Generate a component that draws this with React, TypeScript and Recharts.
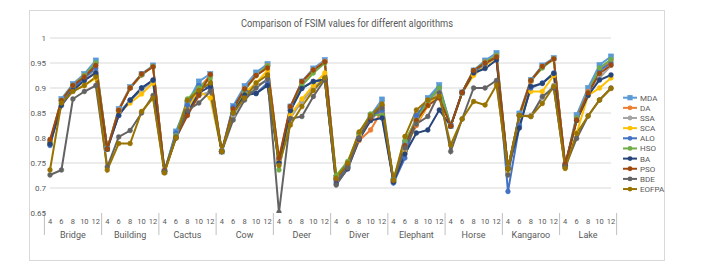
import React from 'react';
import { LineChart, Line, XAxis, YAxis, CartesianGrid } from 'recharts';

const images = ['Bridge', 'Building', 'Cactus', 'Cow', 'Deer', 'Diver', 'Elephant', 'Horse', 'Kangaroo', 'Lake'];
const thresholds = [4, 6, 8, 10, 12];
const yTicks = [0.65, 0.7, 0.75, 0.8, 0.85, 0.9, 0.95, 1];

const mda = [0.79, 0.878, 0.908, 0.928, 0.955, 0.778, 0.858, 0.902, 0.928, 0.945, 0.733, 0.813, 0.87, 0.913, 0.928, 0.773, 0.864, 0.904, 0.931, 0.948, 0.755, 0.863, 0.913, 0.939, 0.956, 0.72, 0.745, 0.805, 0.845, 0.877, 0.715, 0.79, 0.84, 0.88, 0.906, 0.824, 0.891, 0.935, 0.955, 0.97, 0.739, 0.849, 0.916, 0.945, 0.96, 0.745, 0.846, 0.9, 0.946, 0.963];
const da = [0.792, 0.875, 0.905, 0.925, 0.948, 0.778, 0.856, 0.9, 0.926, 0.943, 0.733, 0.805, 0.86, 0.9, 0.925, 0.773, 0.858, 0.898, 0.925, 0.945, 0.755, 0.86, 0.91, 0.936, 0.953, 0.718, 0.74, 0.795, 0.816, 0.855, 0.712, 0.78, 0.825, 0.865, 0.89, 0.824, 0.891, 0.933, 0.952, 0.965, 0.739, 0.845, 0.913, 0.943, 0.958, 0.745, 0.84, 0.893, 0.935, 0.955];
const ssa = [0.79, 0.872, 0.9, 0.915, 0.935, 0.778, 0.852, 0.875, 0.895, 0.915, 0.733, 0.803, 0.85, 0.885, 0.893, 0.773, 0.845, 0.885, 0.905, 0.915, 0.75, 0.84, 0.873, 0.9, 0.92, 0.715, 0.745, 0.8, 0.835, 0.86, 0.712, 0.775, 0.83, 0.87, 0.895, 0.824, 0.89, 0.928, 0.948, 0.962, 0.73, 0.845, 0.845, 0.88, 0.905, 0.742, 0.835, 0.885, 0.92, 0.945];
const sca = [0.79, 0.87, 0.895, 0.905, 0.92, 0.778, 0.85, 0.87, 0.888, 0.91, 0.733, 0.805, 0.86, 0.893, 0.88, 0.773, 0.855, 0.89, 0.91, 0.935, 0.752, 0.845, 0.878, 0.905, 0.93, 0.722, 0.75, 0.805, 0.84, 0.865, 0.714, 0.77, 0.83, 0.865, 0.885, 0.824, 0.89, 0.925, 0.945, 0.96, 0.735, 0.845, 0.893, 0.893, 0.925, 0.742, 0.81, 0.885, 0.9, 0.92];
const alo = [0.785, 0.868, 0.9, 0.92, 0.94, 0.778, 0.845, 0.875, 0.9, 0.915, 0.733, 0.81, 0.865, 0.905, 0.9, 0.773, 0.862, 0.895, 0.889, 0.91, 0.75, 0.855, 0.9, 0.913, 0.917, 0.712, 0.742, 0.8, 0.84, 0.855, 0.71, 0.76, 0.845, 0.875, 0.9, 0.824, 0.891, 0.933, 0.948, 0.962, 0.693, 0.825, 0.9, 0.91, 0.93, 0.745, 0.84, 0.89, 0.935, 0.95];
const hso = [0.79, 0.875, 0.905, 0.925, 0.95, 0.778, 0.855, 0.9, 0.926, 0.943, 0.733, 0.805, 0.878, 0.9, 0.92, 0.773, 0.855, 0.895, 0.925, 0.944, 0.736, 0.855, 0.905, 0.93, 0.95, 0.725, 0.753, 0.81, 0.848, 0.845, 0.716, 0.795, 0.835, 0.875, 0.9, 0.824, 0.891, 0.935, 0.952, 0.965, 0.739, 0.845, 0.915, 0.94, 0.958, 0.745, 0.84, 0.89, 0.94, 0.957];
const ba = [0.788, 0.865, 0.895, 0.915, 0.93, 0.778, 0.845, 0.876, 0.9, 0.916, 0.733, 0.8, 0.85, 0.89, 0.903, 0.773, 0.85, 0.886, 0.889, 0.905, 0.75, 0.855, 0.899, 0.913, 0.917, 0.708, 0.738, 0.797, 0.835, 0.84, 0.712, 0.768, 0.81, 0.816, 0.856, 0.824, 0.891, 0.93, 0.939, 0.956, 0.738, 0.82, 0.903, 0.909, 0.929, 0.745, 0.835, 0.885, 0.916, 0.926];
const pso = [0.797, 0.875, 0.905, 0.922, 0.945, 0.778, 0.855, 0.9, 0.928, 0.942, 0.735, 0.8, 0.845, 0.885, 0.927, 0.773, 0.858, 0.898, 0.925, 0.94, 0.76, 0.863, 0.913, 0.936, 0.952, 0.718, 0.748, 0.8, 0.84, 0.865, 0.715, 0.785, 0.835, 0.865, 0.88, 0.824, 0.891, 0.935, 0.95, 0.962, 0.739, 0.845, 0.915, 0.943, 0.958, 0.748, 0.836, 0.89, 0.929, 0.946];
const bde = [0.726, 0.736, 0.878, 0.893, 0.905, 0.742, 0.802, 0.815, 0.85, 0.885, 0.733, 0.802, 0.855, 0.87, 0.893, 0.773, 0.836, 0.876, 0.9, 0.918, 0.651, 0.839, 0.843, 0.883, 0.917, 0.706, 0.74, 0.8, 0.843, 0.86, 0.716, 0.78, 0.828, 0.843, 0.89, 0.773, 0.838, 0.9, 0.9, 0.915, 0.726, 0.845, 0.843, 0.883, 0.9, 0.742, 0.799, 0.844, 0.876, 0.9];
const eofpa = [0.736, 0.87, 0.893, 0.905, 0.922, 0.736, 0.789, 0.789, 0.853, 0.88, 0.73, 0.8, 0.875, 0.895, 0.91, 0.773, 0.85, 0.88, 0.91, 0.926, 0.745, 0.826, 0.863, 0.895, 0.92, 0.72, 0.75, 0.812, 0.845, 0.868, 0.716, 0.803, 0.856, 0.876, 0.883, 0.786, 0.838, 0.873, 0.866, 0.906, 0.739, 0.845, 0.843, 0.869, 0.903, 0.739, 0.809, 0.844, 0.876, 0.899];

const seriesNames = ['MDA', 'DA', 'SSA', 'SCA', 'ALO', 'HSO', 'BA', 'PSO', 'BDE', 'EOFPA'];
const seriesValues = [mda, da, ssa, sca, alo, hso, ba, pso, bde, eofpa];
const seriesColors = ['#5B9BD5', '#ED7D31', '#A5A5A5', '#FFC000', '#4472C4', '#70AD47', '#264478', '#9E480E', '#636363', '#997300'];

const data = images.flatMap((img, gi) =>
  thresholds.map((t, ti) => {
    const row: Record<string, any> = { key: `${img}-${t}`, image: img, threshold: t };
    seriesNames.forEach((n, si) => {
      row[n] = seriesValues[si][gi * 5 + ti];
    });
    return row;
  })
);

const W = 703;
const H = 276;
const PLOT_L = 50;
const PLOT_R = 611;
const PLOT_T = 38;
const PLOT_B = 213;
const BAND = (PLOT_R - PLOT_L) / data.length;
const TEXT = '#595959';
const FONT = 'Roboto, "Noto Sans", sans-serif';

const XTick = (props: any) => {
  const { x, y, index } = props;
  const ti = index % 5;
  const gi = Math.floor(index / 5);
  const els: any[] = [];
  if (ti === 0) {
    els.push(<line key="s" x1={x - BAND / 2} x2={x - BAND / 2} y1={y} y2={y + 22} stroke="#BFBFBF" strokeWidth={1} />);
  }
  if (index === data.length - 1) {
    els.push(<line key="e" x1={x + BAND / 2} x2={x + BAND / 2} y1={y} y2={y + 22} stroke="#BFBFBF" strokeWidth={1} />);
  }
  els.push(
    <text key="t" x={x} y={y + 11} textAnchor="middle" fontSize={7.5} fill={TEXT} fontFamily={FONT}>
      {thresholds[ti]}
    </text>
  );
  if (ti === 2) {
    els.push(
      <text key="g" x={x} y={y + 24.5} textAnchor="middle" fontSize={9} fill={TEXT} fontFamily={FONT}>
        {images[gi]}
      </text>
    );
  }
  return <g>{els}</g>;
};

const makeDot = (color: string, square: boolean) => (props: any) => {
  const { cx, cy, index } = props;
  if (cx == null || cy == null) return <g key={index} />;
  if (square) {
    return <rect key={index} x={cx - 2.6} y={cy - 2.6} width={5.2} height={5.2} fill={color} stroke={color} strokeWidth={0.5} />;
  }
  return <circle key={index} cx={cx} cy={cy} r={2.4} fill={color} stroke={color} strokeWidth={0.5} />;
};

const fmt = (v: number) => String(Number(v.toFixed(2)));

export default function App() {
  return (
    <div style={{ position: 'absolute', left: 0, top: 0, width: W, height: H, background: '#fff', fontFamily: FONT }}>
      <div style={{ position: 'absolute', left: 29, top: 10, width: 636, height: 251, border: '1px solid #D9D9D9', boxSizing: 'border-box' }} />
      <div style={{ position: 'absolute', left: 0, top: 0 }}>
        <LineChart width={W} height={H} data={data} margin={{ top: PLOT_T, right: W - PLOT_R, bottom: 0, left: 0 }}>
          <CartesianGrid vertical={false} horizontalValues={[0.7, 0.75, 0.8, 0.85, 0.9, 0.95, 1]} stroke="#D9D9D9" strokeWidth={1} />
          <XAxis
            dataKey="key"
            type="category"
            interval={0}
            height={H - PLOT_B}
            tick={<XTick />}
            tickLine={false}
            axisLine={false}
            tickSize={0}
            tickMargin={0}
          />
          <YAxis
            domain={[0.65, 1]}
            ticks={yTicks}
            type="number"
            width={PLOT_L}
            axisLine={false}
            tickLine={false}
            tickSize={0}
            tickMargin={4}
            tickFormatter={fmt}
            tick={{ fontSize: 8, fill: TEXT, fontFamily: FONT }}
            allowDataOverflow
          />
          {seriesNames.map((n, si) => (
            <Line
              key={n}
              dataKey={n}
              stroke={seriesColors[si]}
              strokeWidth={2}
              dot={makeDot(seriesColors[si], si === 0)}
              activeDot={false}
              isAnimationActive={false}
              type="linear"
            />
          ))}
        </LineChart>
      </div>
      <svg width={W} height={H} style={{ position: 'absolute', left: 0, top: 0, pointerEvents: 'none' }}>
        <text x={347} y={27} textAnchor="middle" fontSize={10.5} fill={TEXT} fontFamily={FONT} textLength={212} lengthAdjust="spacingAndGlyphs">
          Comparison of FSIM values for different algorithms
        </text>
        {seriesNames.map((n, si) => {
          const cy = 97.7 + si * 10.15;
          const c = seriesColors[si];
          return (
            <g key={n}>
              <line x1={623} x2={637} y1={cy} y2={cy} stroke={c} strokeWidth={2} />
              {si === 0 ? (
                <rect x={627.4} y={cy - 2.6} width={5.2} height={5.2} fill={c} />
              ) : (
                <circle cx={630} cy={cy} r={2.4} fill={c} />
              )}
              <text x={640} y={cy + 3} fontSize={8} fill={TEXT} fontFamily={FONT}>
                {n}
              </text>
            </g>
          );
        })}
      </svg>
    </div>
  );
}
